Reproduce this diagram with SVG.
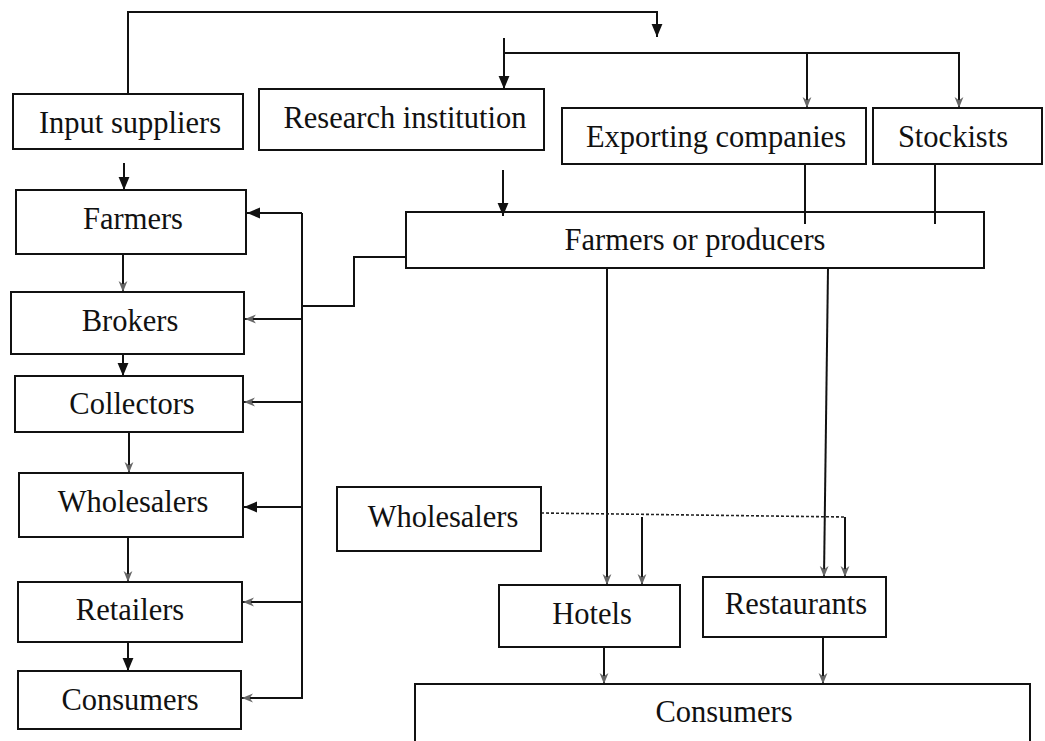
<svg xmlns="http://www.w3.org/2000/svg" width="1045" height="741" viewBox="0 0 1045 741">
<style>
.box{fill:none;stroke:#111;stroke-width:2}
.lbl{font-family:"Liberation Serif","Times New Roman",serif;font-size:30.5px;fill:#111;text-anchor:middle}
.ln{fill:none;stroke:#111;stroke-width:2}
.dot{fill:none;stroke:#222;stroke-width:1.6;stroke-dasharray:3 2}
</style>
<defs>
<marker id="ad" viewBox="0 0 12 12" refX="12" refY="6" markerWidth="13" markerHeight="13" markerUnits="userSpaceOnUse" orient="auto"><path d="M0,1 L12,6 L0,11 z" fill="#111"/></marker>
<marker id="ag" viewBox="0 0 10 10" refX="10" refY="5" markerWidth="11" markerHeight="11" markerUnits="userSpaceOnUse" orient="auto"><path d="M0,1 L10,5 L0,9 L3,5 z" fill="#666"/></marker>
</defs>
<rect width="1045" height="741" fill="#fff"/>
<g id="connectors">
<path class="ln" d="M128,94 V12 H657 V37" marker-end="url(#ad)"/>
<path class="ln" d="M504,38 V89" marker-end="url(#ad)"/>
<path class="ln" d="M504,53 H959 V108" marker-end="url(#ag)"/>
<path class="ln" d="M807,53 V108" marker-end="url(#ag)"/>
<path class="ln" d="M503,170 V216" marker-end="url(#ad)"/>
<path class="ln" d="M805,164 V224"/>
<path class="ln" d="M935,164 V224"/>
<path class="ln" d="M406,257 H354 V306 H302"/>
<path class="ln" d="M302,213 V699"/>
<path class="ln" d="M302,213 H247" marker-end="url(#ad)"/>
<path class="ln" d="M302,319 H245" marker-end="url(#ag)"/>
<path class="ln" d="M302,402 H244" marker-end="url(#ag)"/>
<path class="ln" d="M302,507 H244" marker-end="url(#ad)"/>
<path class="ln" d="M302,602 H243" marker-end="url(#ag)"/>
<path class="ln" d="M302,698 H242" marker-end="url(#ag)"/>
<path class="ln" d="M124,163 V190" marker-end="url(#ad)"/>
<path class="ln" d="M123,254 V292" marker-end="url(#ag)"/>
<path class="ln" d="M123,354 V376" marker-end="url(#ad)"/>
<path class="ln" d="M129,432 V473" marker-end="url(#ag)"/>
<path class="ln" d="M128,537 V582" marker-end="url(#ag)"/>
<path class="ln" d="M128,642 V671" marker-end="url(#ad)"/>
<path class="ln" d="M607,268 V585" marker-end="url(#ag)"/>
<path class="ln" d="M828,268 L824,577" marker-end="url(#ag)"/>
<path class="dot" d="M541,513 L845,517"/>
<path class="ln" d="M845,517 V577" marker-end="url(#ag)"/>
<path class="ln" d="M642,517 V585" marker-end="url(#ag)"/>
<path class="ln" d="M604,647 V684" marker-end="url(#ag)"/>
<path class="ln" d="M823,637 V684" marker-end="url(#ag)"/>
</g>
<g id="input-suppliers"><rect class="box" x="13" y="94" width="230" height="55"/><text class="lbl" x="130" y="133">Input suppliers</text></g>
<g id="research-institution"><rect class="box" x="259" y="89" width="285" height="61"/><text class="lbl" x="405" y="128">Research institution</text></g>
<g id="exporting-companies"><rect class="box" x="562" y="108" width="304" height="56"/><text class="lbl" x="716" y="147">Exporting companies</text></g>
<g id="stockists"><rect class="box" x="873" y="108" width="169" height="56"/><text class="lbl" x="953" y="147">Stockists</text></g>
<g id="farmers-or-producers"><rect class="box" x="406" y="212" width="578" height="56"/><text class="lbl" x="695" y="250">Farmers or producers</text></g>
<g id="farmers"><rect class="box" x="16" y="190" width="230" height="64"/><text class="lbl" x="133" y="229">Farmers</text></g>
<g id="brokers"><rect class="box" x="11" y="292" width="233" height="62"/><text class="lbl" x="130" y="331">Brokers</text></g>
<g id="collectors"><rect class="box" x="15" y="376" width="228" height="56"/><text class="lbl" x="132" y="414">Collectors</text></g>
<g id="wholesalers-left"><rect class="box" x="19" y="473" width="224" height="64"/><text class="lbl" x="133" y="512">Wholesalers</text></g>
<g id="retailers"><rect class="box" x="18" y="582" width="224" height="60"/><text class="lbl" x="130" y="620">Retailers</text></g>
<g id="consumers-left"><rect class="box" x="18" y="671" width="223" height="58"/><text class="lbl" x="130" y="710">Consumers</text></g>
<g id="wholesalers-right"><rect class="box" x="337" y="487" width="204" height="64"/><text class="lbl" x="443" y="527">Wholesalers</text></g>
<g id="hotels"><rect class="box" x="499" y="585" width="181" height="62"/><text class="lbl" x="592" y="624">Hotels</text></g>
<g id="restaurants"><rect class="box" x="703" y="577" width="183" height="60"/><text class="lbl" x="796" y="614">Restaurants</text></g>
<g id="consumers-right"><rect class="box" x="415" y="684" width="615" height="70"/><text class="lbl" x="724" y="722">Consumers</text></g>
</svg>
